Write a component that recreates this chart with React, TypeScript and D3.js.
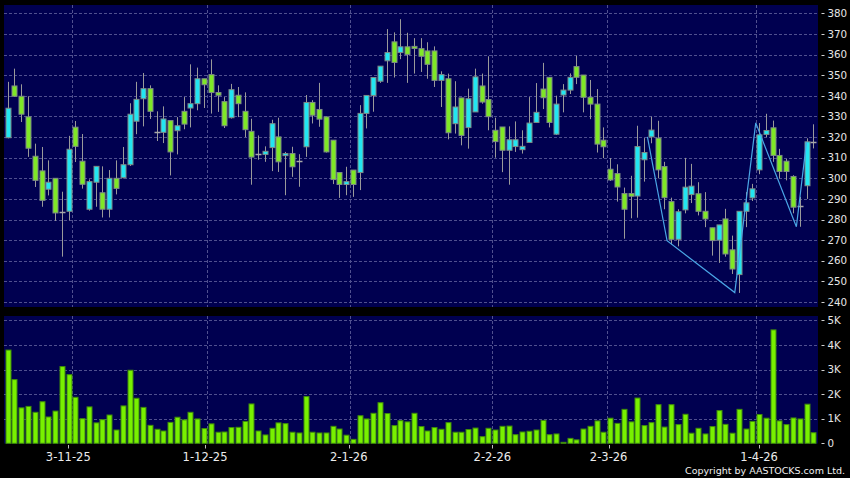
import React, { useRef, useEffect } from 'react';
import * as d3 from 'd3';

// daily candles, oldest first
const opens = [
  319.7, 344.8, 339.8, 329.8, 310.7, 303.6, 294.7, 300, 283.5, 284,
  324.8, 308.3, 285, 298.1, 293, 285, 300, 300.3, 306.6, 327.7,
  338.6, 343.5, 322.3, 322.3, 328, 323.1, 332.5, 334.1, 336.2, 348.3,
  350.3, 341.6, 337.2, 329.4, 340.3, 332.5, 322.8, 311.9, 311.6, 314.9,
  320.1, 311, 312, 308.3, 315.3, 336.8, 333.4, 329.8, 318.5, 302.8,
  297, 304, 302.8, 331.5, 340.2, 347.1, 357, 366.2, 361, 363.8,
  364, 362.9, 361.8, 361.8, 347.5, 348.3, 326.5, 339, 324.6, 332.2,
  344.8, 338.2, 323.3, 324.9, 313.6, 315.4, 313.9, 317.4, 327.1, 343.3,
  349, 321.4, 340.4, 342.8, 354.2, 350.1, 339.3, 336, 318.5, 304.4,
  302.3, 292.6, 292.6, 291.4, 309, 320.1, 319.5, 305.7, 288.7, 270.4,
  284.7, 292.1, 292.5, 284, 276, 270, 280.3, 265.3, 253.3, 284,
  290.5, 304.1, 321.3, 324.5, 311.1, 308.3, 300.9, 286.8, 296.4, 317.7,
];
const highs = [
  346.8, 353.2, 345.6, 339.8, 316.8, 315.2, 308.7, 300, 293.5, 320.6,
  327.8, 321.5, 299.5, 305.8, 305.8, 304, 308.7, 315.2, 336.4, 346.8,
  351.1, 345.1, 332.5, 334.9, 328, 329.7, 339.4, 355.3, 353.7, 348.3,
  357.7, 345.1, 339.4, 345.8, 344.3, 341.7, 328.9, 320.8, 315.5, 328.4,
  329.4, 312.8, 315.3, 311.7, 340.4, 337.9, 346.3, 329.8, 318.5, 302.8,
  305.6, 304, 335.5, 340.2, 348.9, 354.4, 372.4, 370.8, 377.2, 370.6,
  368, 368, 366, 364, 351.9, 350.8, 347.1, 339, 343.5, 353.2,
  350.8, 359.2, 329.4, 324.9, 325.2, 327.6, 323.3, 339.4, 346.2, 356,
  349, 340.1, 345.7, 350.9, 359.5, 350.1, 347.7, 343.3, 324.7, 309.8,
  306.8, 295.5, 301.2, 325.5, 319.5, 329.9, 327.9, 308, 290.6, 285,
  309.9, 307, 298.1, 293.3, 276, 277.4, 285.2, 272.2, 284, 293.3,
  297.3, 326.8, 331.3, 328, 314.3, 309.4, 301.5, 291, 319.4, 326.2,
];
const lows = [
  319.4, 339.5, 327.3, 310.4, 295.8, 286.2, 291.7, 279.3, 262, 279.6,
  307.9, 295, 284.3, 286.2, 281, 281, 292.2, 300, 306, 321.4,
  325.2, 328.8, 318.1, 317.1, 301.4, 311.6, 323.8, 324.7, 333, 334.1,
  331.4, 332.2, 324.4, 329, 329.7, 320, 296.9, 309, 308, 303.5,
  303.1, 291.8, 300.7, 295.9, 310.4, 326.6, 325, 312.5, 297.2, 290.5,
  291.8, 291, 294.3, 324.2, 332.3, 346.3, 346.3, 348.9, 357.8, 346.3,
  350.8, 351.6, 348.3, 344.3, 334.6, 318.9, 321.7, 316, 314.4, 332.2,
  336.2, 323.3, 310, 303, 296.9, 312.8, 312, 317.4, 327, 333.6,
  324.7, 321, 332, 340.9, 345.7, 332, 328.7, 312.5, 309.8, 298.7,
  288.7, 270.7, 280.6, 280.9, 298.4, 317, 300, 285, 268, 267,
  283, 288, 282, 276.3, 262.5, 259, 262, 253.6, 244.4, 276.3,
  289, 302, 320, 308, 300, 299, 283, 276.5, 290, 314.5,
];
const closes = [
  334, 339.8, 331.1, 314.6, 299, 289.3, 298.1, 283.2, 283.5, 314.1,
  315.5, 297.1, 298.4, 305.8, 285, 300, 295.1, 306.6, 331.1, 338.3,
  343.5, 332.5, 322.3, 328.8, 312.8, 325.5, 326.3, 336.2, 348.3, 345.4,
  341.6, 340.3, 325.5, 343, 336.2, 323.6, 310.3, 311.9, 313.1, 326.5,
  308, 312, 305.6, 308.3, 336.8, 330.6, 328.7, 312.8, 299.4, 297,
  298.4, 297, 331.5, 340.2, 348.9, 354.4, 361, 356.2, 363.8, 360.1,
  363, 359.2, 355.3, 347.5, 350.3, 322.1, 334.6, 320.8, 338.6, 349.2,
  337, 329.9, 317.8, 313.6, 318.7, 318.7, 315.5, 326.8, 332, 339.1,
  327.1, 336, 342.8, 349, 349, 339.3, 336, 316.6, 315.3, 299.2,
  295.8, 285, 291.3, 315.4, 312.5, 323.4, 304.1, 290.6, 270.4, 283.8,
  295.7, 296.2, 284, 280.3, 269.8, 277.4, 263.3, 256, 284, 288.1,
  294.9, 321.1, 323.2, 311.1, 303.3, 303.3, 286, 286.8, 317.7, 317.7,
];
// volume in thousands
const volumes = [
  3.79, 2.59, 1.44, 1.5, 1.26, 1.69, 1.07, 1.31, 3.12, 2.79,
  1.87, 1.0, 1.48, 0.83, 0.96, 1.15, 0.54, 1.52, 2.97, 1.83,
  1.46, 0.73, 0.57, 0.5, 0.85, 1.06, 0.95, 1.26, 0.99, 0.6,
  0.79, 0.45, 0.46, 0.64, 0.65, 0.89, 1.6, 0.5, 0.34, 0.61,
  0.83, 0.8, 0.45, 0.42, 1.9, 0.45, 0.42, 0.42, 0.69, 0.58,
  0.33, 0.16, 1.12, 0.99, 1.22, 1.65, 1.21, 0.72, 0.92, 0.87,
  1.22, 0.68, 0.5, 0.64, 0.57, 0.84, 0.45, 0.45, 0.56, 0.62,
  0.27, 0.61, 0.54, 0.69, 0.7, 0.35, 0.46, 0.49, 0.54, 0.93,
  0.35, 0.38, 0.04, 0.2, 0.14, 0.58, 0.69, 0.91, 0.45, 1.02,
  0.81, 1.38, 0.87, 1.84, 0.72, 0.84, 1.57, 0.66, 1.57, 0.76,
  1.18, 0.41, 0.61, 0.38, 0.68, 1.33, 0.77, 0.41, 1.38, 0.58,
  0.89, 1.17, 1.02, 4.61, 0.91, 0.76, 1.03, 0.99, 1.59, 0.43,
];
const dateLabels = ['3-11-25', '1-12-25', '2-1-26', '2-2-26', '2-3-26', '1-4-26'];
const dateIndex = [9, 29, 50, 71, 88, 110];
const priceTicks = [240, 250, 260, 270, 280, 290, 300, 310, 320, 330, 340, 350, 360, 370, 380];
const volTicks = [0, 1, 2, 3, 4, 5];
const volTickLabels = ['0', '1K', '2K', '3K', '4K', '5K'];
// zig-zag pattern line (candle index, price)
const trendIdx = [94.5, 97.4, 107.4, 110.5, 116.5, 118.0];
const trendPrice = [320.1, 269.7, 244.6, 326.9, 276.5, 317.7];

const W = 850;
const H = 478;

const App: React.FC = () => {
  const svgRef = useRef<SVGSVGElement>(null);

  useEffect(() => {
    if (!svgRef.current) return;
    document.body.style.margin = '0';
    const svg = d3.select(svgRef.current);
    svg.selectAll('*').remove();

    const left = 4, right = 818;
    const pTop = 5, pBottom = 307;
    const vTop = 316, vBottom = 443.5;
    const n = closes.length;

    const x = d3.scaleLinear().domain([0, n - 1]).range([7.7, 813.3]);
    const xLabel = d3.scaleLinear().domain([0, n - 1]).range([6.7, 820.7]);
    const y = d3.scaleLinear().domain([240, 380]).range([302, 13.4]);
    const yv = d3.scaleLinear().domain([0, 5]).range([443.3, 320.3]);
    const half = (x(1) - x(0)) / 2;

    svg.append('rect').attr('width', W).attr('height', H).attr('fill', '#000');
    svg.append('rect').attr('x', left).attr('y', pTop).attr('width', right - left).attr('height', pBottom - pTop).attr('fill', '#000050');
    svg.append('rect').attr('x', left).attr('y', vTop).attr('width', right - left).attr('height', vBottom - vTop).attr('fill', '#000050');

    const gridColor = '#50508f';
    const crisp = (v: number) => Math.round(v) + 0.5;

    // horizontal grid, price
    svg.append('g').selectAll('line').data(priceTicks).enter().append('line')
      .attr('x1', left).attr('x2', right)
      .attr('y1', d => crisp(y(d))).attr('y2', d => crisp(y(d)))
      .attr('stroke', gridColor).attr('stroke-dasharray', '3,2');
    // horizontal grid, volume
    svg.append('g').selectAll('line').data(volTicks.slice(1)).enter().append('line')
      .attr('x1', left).attr('x2', right)
      .attr('y1', d => crisp(yv(d))).attr('y2', d => crisp(yv(d)))
      .attr('stroke', gridColor).attr('stroke-dasharray', '3,2');
    // vertical grid
    const vg = svg.append('g');
    dateIndex.forEach(i => {
      const gx = crisp(x(i) + half);
      vg.append('line').attr('x1', gx).attr('x2', gx).attr('y1', pTop).attr('y2', pBottom)
        .attr('stroke', gridColor).attr('stroke-dasharray', '3,2');
      vg.append('line').attr('x1', gx).attr('x2', gx).attr('y1', vTop).attr('y2', vBottom)
        .attr('stroke', gridColor).attr('stroke-dasharray', '3,2');
    });

    // candles
    const cg = svg.append('g');
    const up = '#22e6f2';
    const down = '#7fe826';
    d3.range(n).forEach(i => {
      const o = opens[i], c = closes[i];
      const cx = crisp(x(i));
      cg.append('line').attr('x1', cx).attr('x2', cx)
        .attr('y1', y(highs[i])).attr('y2', y(lows[i]))
        .attr('stroke', '#9a9a9a');
      if (Math.abs(o - c) < 0.3) {
        cg.append('line').attr('x1', cx - 3).attr('x2', cx + 3)
          .attr('y1', crisp(y(c))).attr('y2', crisp(y(c)))
          .attr('stroke', '#a8a8a8').attr('stroke-width', 1.5);
        return;
      }
      const top = y(Math.max(o, c));
      const bot = y(Math.min(o, c));
      cg.append('rect')
        .attr('x', cx - 2.5).attr('width', 5)
        .attr('y', top).attr('height', Math.max(1, bot - top))
        .attr('fill', c > o ? up : down)
        .attr('stroke', '#7d8a86').attr('stroke-width', 1);
    });

    // pattern line
    const line = d3.line<number>()
      .x((_, k) => x(trendIdx[k]))
      .y(d => y(d));
    svg.append('path').attr('d', line(trendPrice))
      .attr('fill', 'none').attr('stroke', '#4aa6e6').attr('stroke-width', 1.2);

    // volume bars
    svg.append('g').selectAll('rect').data(volumes).enter().append('rect')
      .attr('x', (_, i) => crisp(x(i)) - 2.5).attr('width', 5)
      .attr('y', d => yv(d)).attr('height', d => yv(0) - yv(d))
      .attr('fill', '#78f000').attr('stroke', '#3f8c0a').attr('stroke-width', 1);

    const font = 'DejaVu Sans, Verdana, sans-serif';
    // right axis, price
    const ra = svg.append('g');
    priceTicks.forEach(t => {
      ra.append('line').attr('x1', 821.5).attr('x2', 824.5)
        .attr('y1', crisp(y(t))).attr('y2', crisp(y(t))).attr('stroke', '#cfcfcf');
      ra.append('text').attr('x', 827.5).attr('y', y(t)).attr('dy', '0.36em')
        .attr('fill', '#e6e6e6').style('font-family', font).style('font-size', '10.3px')
        .text(String(t));
    });
    volTicks.forEach((t, k) => {
      ra.append('line').attr('x1', 821.5).attr('x2', 824.5)
        .attr('y1', crisp(yv(t))).attr('y2', crisp(yv(t))).attr('stroke', '#cfcfcf');
      ra.append('text').attr('x', 827.5).attr('y', yv(t)).attr('dy', '0.36em')
        .attr('fill', '#e6e6e6').style('font-family', font).style('font-size', '10.3px')
        .text(volTickLabels[k]);
    });

    // date axis
    dateIndex.forEach((i, k) => {
      const lx = xLabel(i);
      svg.append('line').attr('x1', crisp(lx)).attr('x2', crisp(lx)).attr('y1', 445).attr('y2', 448.5)
        .attr('stroke', '#bdbdbd');
      svg.append('text').attr('x', lx).attr('y', 461).attr('text-anchor', 'middle')
        .attr('fill', '#ececec').style('font-family', font).style('font-size', '11.5px')
        .text(dateLabels[k]);
    });

    svg.append('text').attr('x', 845).attr('y', 473.5).attr('text-anchor', 'end')
      .attr('fill', '#f0f0f0').style('font-family', font).style('font-size', '9.5px')
      .text('Copyright by AASTOCKS.com Ltd.');
  }, []);

  return (
    <svg ref={svgRef} width={W} height={H}
      style={{ position: 'absolute', left: 0, top: 0, display: 'block' }} />
  );
};

export default App;
